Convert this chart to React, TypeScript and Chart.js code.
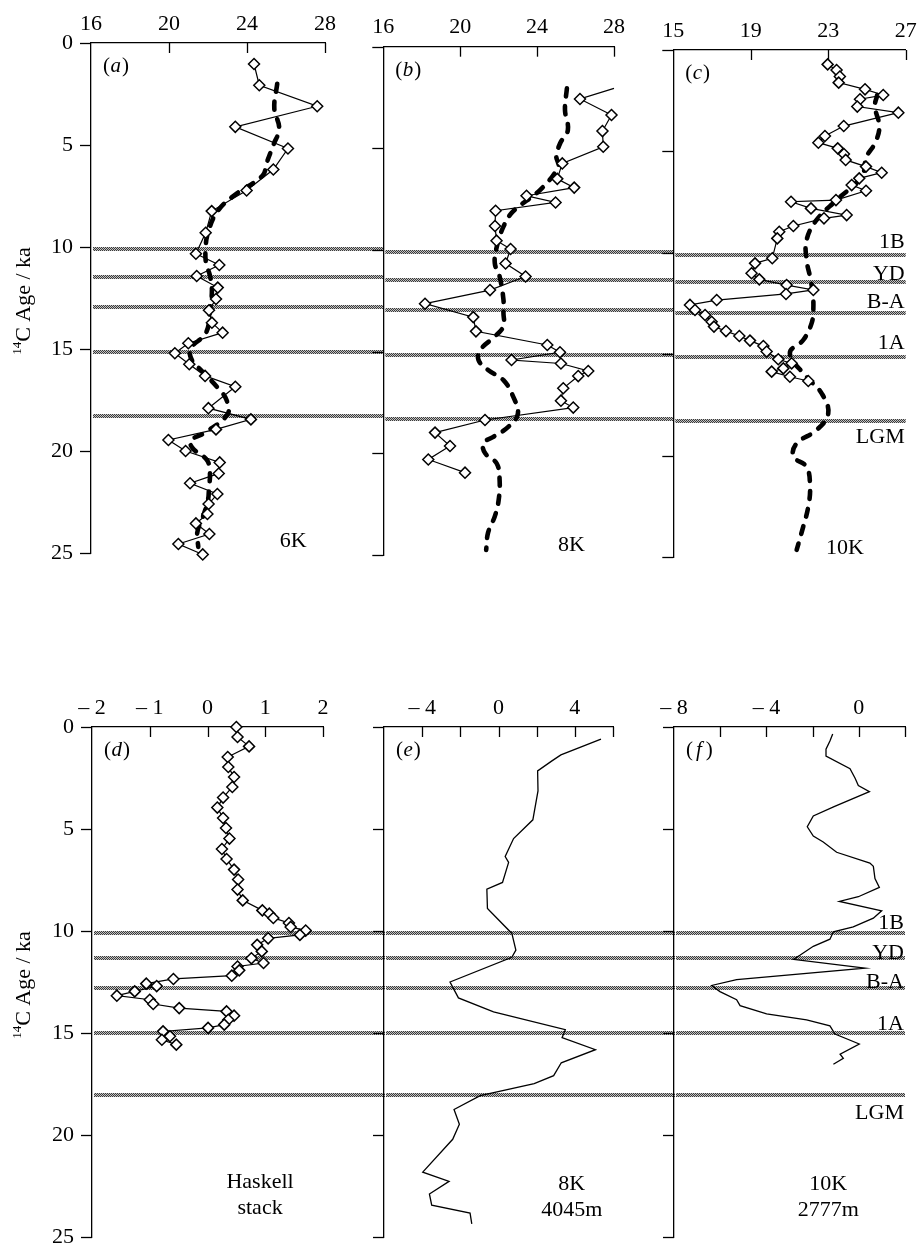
import React, { useEffect, useRef } from 'react';
import { Chart, registerables } from 'chart.js';

Chart.register(...registerables);

const SERIF = "'Liberation Serif', 'Times New Roman', Times, serif";

// ---------------- axes / ticks ----------------
const AGE_TICKS = [0, 5, 10, 15, 20, 25];
const SST_TICKS_AB = [16, 20, 24, 28];
const SST_TICKS_C = [15, 19, 23, 27];
const D_TICKS = [-2, -1, 0, 1, 2];
const E_TICKS = [-6, -4, -2, 0, 2, 4, 6];
const E_LABELLED = [-4, 0, 4];
const F_TICKS = [-8, -6, -4, -2, 0, 2];
const F_LABELLED = [-8, -4, 0];

// ---------------- climate events ----------------
const EVENT_NAMES = ['1B', 'YD', 'B-A', '1A', 'LGM'];
const EVENT_AGES_TOP = [10.1, 11.45, 12.95, 15.15, 18.3];
const EVENT_AGES_BOTTOM = [10.1, 11.3, 12.8, 15.0, 18.05];

// ---------------- (a) 6K ----------------
const A_AGE = [1.03, 2.07, 3.1, 4.11, 5.17, 6.2, 7.23, 8.24, 9.3, 10.33, 10.88, 11.42, 11.99, 12.55, 13.1, 13.71, 14.2, 14.72, 15.21, 15.75, 16.32, 16.85, 17.9, 18.45, 18.94, 19.46, 20.0, 20.56, 21.1, 21.58, 22.11, 22.6, 23.09, 23.55, 24.07, 24.56, 25.07];
const A_SST = [24.36, 24.63, 27.6, 23.4, 26.1, 25.35, 23.98, 22.19, 21.88, 21.38, 22.58, 21.42, 22.5, 22.41, 22.05, 22.2, 22.75, 20.99, 20.3, 21.04, 21.85, 23.4, 22.02, 24.2, 22.41, 19.97, 20.85, 22.6, 22.55, 21.08, 22.48, 22.03, 21.97, 21.38, 22.07, 20.48, 21.73];
const A_MOD_AGE = [2.0, 3.2, 4.2, 5.0, 5.9, 6.5, 7.5, 8.3, 9.3, 10.0, 10.8, 11.4, 12.1, 13.1, 14.2, 15.0, 15.6, 16.0, 16.9, 17.5, 18.2, 19.1, 19.5, 19.9, 20.45, 21.1, 21.8, 22.4, 23.2, 24.0, 24.7];
const A_MOD_SST = [25.55, 25.4, 25.65, 25.35, 25.0, 24.8, 23.3, 22.45, 22.0, 21.88, 21.9, 22.1, 22.2, 22.1, 21.9, 21.1, 21.2, 21.6, 22.5, 22.95, 23.0, 21.85, 21.1, 21.25, 21.95, 22.1, 22.05, 22.0, 21.75, 21.45, 21.5];

// ---------------- (b) 8K ----------------
// first pair: where the trace leaves the frame at 28
const B_AGE = [2.05, 2.57, 3.36, 4.15, 4.92, 5.74, 6.5, 6.93, 7.33, 7.66, 8.07, 8.82, 9.54, 9.95, 10.66, 11.3, 11.97, 12.64, 13.3, 14.0, 14.67, 15.03, 15.41, 15.58, 15.95, 16.2, 16.8, 17.41, 17.75, 18.36, 18.98, 19.64, 20.3, 20.95];
const B_SST = [28.0, 26.23, 27.87, 27.4, 27.44, 25.31, 25.05, 25.93, 23.45, 24.96, 21.84, 21.81, 21.89, 22.62, 22.36, 23.4, 21.55, 18.17, 20.68, 20.82, 24.53, 25.19, 22.67, 25.24, 26.66, 26.14, 25.36, 25.24, 25.88, 21.29, 18.69, 19.47, 18.34, 20.25];
const B_MOD_AGE = [2.05, 3.1, 4.1, 4.75, 5.4, 5.9, 7.05, 8.1, 8.85, 9.85, 10.65, 11.3, 12.45, 13.1, 13.75, 14.25, 14.9, 15.4, 15.9, 16.4, 17.2, 18.05, 18.7, 19.2, 19.5, 20.0, 20.5, 21.3, 22.3, 23.1, 23.9, 24.75];
const B_MOD_SST = [25.55, 25.45, 25.6, 25.2, 25.0, 25.1, 24.15, 22.75, 22.25, 21.9, 21.8, 22.05, 22.25, 22.25, 22.25, 21.8, 21.05, 20.95, 21.45, 22.25, 22.75, 23.0, 22.5, 21.7, 21.2, 21.3, 21.9, 22.05, 22.0, 21.8, 21.45, 21.35];

// ---------------- (c) 10K ----------------
const C_AGE = [0.71, 0.99, 1.31, 1.61, 1.94, 2.22, 2.43, 2.79, 3.09, 3.75, 4.24, 4.57, 4.85, 5.13, 5.42, 5.75, 6.05, 6.33, 6.66, 6.94, 7.4, 7.48, 7.81, 8.14, 8.3, 8.68, 8.96, 9.29, 10.27, 10.52, 11.01, 11.31, 11.59, 11.83, 12.03, 12.33, 12.57, 12.82, 13.07, 13.4, 13.64, 13.86, 14.1, 14.33, 14.6, 14.87, 15.25, 15.45, 15.7, 15.86, 16.11, 16.32];
const C_SST = [22.97, 23.43, 23.6, 23.54, 24.9, 25.84, 24.64, 24.5, 26.62, 23.8, 22.83, 22.49, 23.49, 23.81, 23.9, 24.95, 25.76, 24.6, 24.21, 24.95, 23.4, 21.08, 22.11, 23.95, 22.78, 21.2, 20.47, 20.37, 20.11, 19.22, 19.04, 19.44, 20.85, 22.23, 20.82, 17.24, 15.86, 16.12, 16.64, 16.98, 17.1, 17.72, 18.41, 18.96, 19.65, 19.82, 20.42, 21.11, 20.68, 20.08, 21.02, 21.97];
const C_MOD_AGE = [2.22, 2.79, 3.78, 4.6, 5.26, 6.25, 7.4, 8.38, 9.37, 10.35, 11.18, 12.0, 12.82, 13.48, 14.3, 14.96, 16.11, 16.93, 17.92, 18.74, 19.4, 20.05, 20.55, 21.53, 22.52, 23.5, 24.65];
const C_MOD_SST = [25.53, 25.41, 25.64, 25.41, 24.98, 24.72, 23.43, 22.4, 21.88, 21.88, 22.06, 22.2, 22.23, 22.14, 21.71, 21.02, 21.88, 22.66, 23.0, 22.4, 21.37, 21.2, 21.88, 22.06, 21.97, 21.71, 21.37];

// ---------------- (d) Haskell stack ----------------
const D_AGE = [0.0, 0.49, 0.95, 1.47, 1.96, 2.45, 2.94, 3.46, 3.95, 4.46, 4.95, 5.47, 5.98, 6.47, 6.99, 7.48, 7.97, 8.5, 8.99, 9.15, 9.36, 9.61, 9.8, 9.98, 10.19, 10.36, 10.68, 11.0, 11.34, 11.57, 11.74, 11.93, 12.19, 12.35, 12.58, 12.7, 12.96, 13.17, 13.37, 13.58, 13.78, 13.94, 14.15, 14.35, 14.59, 14.75, 14.92, 15.16, 15.33, 15.57];
const D_VAL = [0.5, 0.52, 0.72, 0.35, 0.36, 0.46, 0.43, 0.27, 0.17, 0.27, 0.32, 0.38, 0.25, 0.33, 0.46, 0.53, 0.52, 0.61, 0.95, 1.07, 1.14, 1.41, 1.44, 1.7, 1.6, 1.05, 0.86, 0.94, 0.76, 0.97, 0.52, 0.55, 0.42, -0.59, -1.06, -0.88, -1.26, -1.57, -1.0, -0.94, -0.49, 0.33, 0.46, 0.36, 0.29, 0.01, -0.77, -0.65, -0.79, -0.54];

// ---------------- (e) 8K 4045 m ----------------
const E_AGE = [0.59, 1.37, 1.66, 2.15, 3.13, 4.55, 5.47, 6.35, 6.64, 7.62, 7.95, 8.89, 10.12, 10.94, 11.29, 12.5, 13.28, 13.96, 14.84, 15.23, 15.82, 16.46, 17.09, 17.48, 18.07, 18.75, 19.47, 20.21, 21.82, 22.27, 22.89, 23.44, 23.83, 24.36];
const E_VAL = [5.37, 3.27, 2.8, 2.05, 2.07, 1.8, 0.79, 0.35, 0.53, 0.21, -0.61, -0.58, 0.7, 0.91, 0.7, -2.54, -2.1, -0.26, 3.5, 3.33, 5.08, 3.29, 2.89, 1.87, -0.96, -2.33, -2.05, -2.4, -3.97, -2.59, -3.62, -3.5, -1.49, -1.4];

// ---------------- (f) 10K 2777 m ----------------
const F_AGE = [0.34, 0.69, 1.09, 1.43, 2.04, 2.51, 2.87, 3.17, 3.9, 4.36, 4.89, 5.35, 5.64, 6.14, 6.67, 6.83, 7.43, 7.86, 8.32, 8.55, 9.01, 9.37, 9.8, 10.04, 10.4, 10.75, 11.19, 11.39, 11.82, 12.38, 12.67, 12.97, 13.37, 13.66, 14.06, 14.36, 14.65, 15.05, 15.54, 16.04, 16.24, 16.53];
const F_VAL = [-1.13, -1.25, -1.42, -1.42, -0.38, -0.16, -0.02, 0.46, -1.07, -1.97, -2.23, -1.97, -1.54, -0.96, 0.48, 0.63, 0.7, 0.89, -0.02, -0.84, 0.99, 0.63, -0.24, -1.1, -1.25, -1.97, -2.55, -2.83, 0.27, -5.29, -6.37, -6.01, -5.29, -5.14, -3.99, -2.26, -1.25, -1.03, 0.02, -0.81, -0.67, -1.1];

// ---------------- styling / layout ----------------
const CW = 1000;
const CH = 1300;
const AXIS_W = 60;
const AXIS_H = 44;
const TICK_SIZE = 22;
const TEXT_SIZE = 22;

const pts = (ages: number[], vals: number[]) => ages.map((a, i) => ({ x: vals[i], y: a }));

const diamonds = (ages: number[], vals: number[], hideFirst = false) => ({
  data: pts(ages, vals),
  showLine: true,
  borderColor: '#000',
  borderWidth: 1.2,
  pointStyle: 'rectRot',
  pointRadius: hideFirst ? (c: any) => (c.dataIndex === 0 ? 0 : 5.5) : 5.5,
  pointBorderWidth: 1.5,
  pointBackgroundColor: '#fff',
  pointBorderColor: '#000',
  tension: 0,
  clip: false,
});

const dashed = (ages: number[], vals: number[]) => ({
  data: pts(ages, vals),
  showLine: true,
  borderColor: '#000',
  borderWidth: 4.6,
  borderDash: [8, 10],
  borderCapStyle: 'round',
  pointRadius: 0,
  tension: 0.4,
  clip: false,
});

const plain = (ages: number[], vals: number[]) => ({
  data: pts(ages, vals),
  showLine: true,
  borderColor: '#000',
  borderWidth: 1.3,
  pointRadius: 0,
  tension: 0,
  clip: false,
});

type Note = { lines: string[]; x: number; y: number };
type Panel = {
  id: string;
  letter: string;
  left: number; right: number; top: number; bottom: number;
  xMin: number; xMax: number; xTicks: number[]; xLabelled: number[];
  yLabels: boolean;
  events: number[];
  eventEnd: number | null;
  eventLabelAges: number[] | null;
  notes: Note[];
  datasets: any[];
};

const PANELS: Panel[] = [
  {
    id: 'a', letter: 'a', left: 91, right: 325, top: 43, bottom: 553,
    xMin: 16, xMax: 28, xTicks: SST_TICKS_AB, xLabelled: SST_TICKS_AB, yLabels: true,
    events: EVENT_AGES_TOP, eventEnd: 384, eventLabelAges: null,
    notes: [{ lines: ['6K'], x: 26.37, y: 24.69 }],
    datasets: [diamonds(A_AGE, A_SST), dashed(A_MOD_AGE, A_MOD_SST)],
  },
  {
    id: 'b', letter: 'b', left: 383.3, right: 614, top: 46.7, bottom: 555,
    xMin: 16, xMax: 28, xTicks: SST_TICKS_AB, xLabelled: SST_TICKS_AB, yLabels: false,
    events: EVENT_AGES_TOP, eventEnd: 674, eventLabelAges: null,
    notes: [{ lines: ['8K'], x: 25.79, y: 24.79 }],
    datasets: [diamonds(B_AGE, B_SST, true), dashed(B_MOD_AGE, B_MOD_SST)],
  },
  {
    id: 'c', letter: 'c', left: 673.3, right: 905.7, top: 50, bottom: 557,
    xMin: 15, xMax: 27, xTicks: SST_TICKS_C, xLabelled: SST_TICKS_C, yLabels: false,
    events: EVENT_AGES_TOP, eventEnd: null, eventLabelAges: [9.78, 11.34, 12.74, 14.76, 19.36],
    notes: [{ lines: ['10K'], x: 23.86, y: 24.85 }],
    datasets: [diamonds(C_AGE, C_SST), dashed(C_MOD_AGE, C_MOD_SST)],
  },
  {
    id: 'd', letter: 'd', left: 92, right: 323, top: 727, bottom: 1237,
    xMin: -2, xMax: 2, xTicks: D_TICKS, xLabelled: D_TICKS, yLabels: true,
    events: EVENT_AGES_BOTTOM, eventEnd: 385, eventLabelAges: null,
    notes: [{ lines: ['Haskell', 'stack'], x: 0.91, y: 22.6 }],
    datasets: [diamonds(D_AGE, D_VAL)],
  },
  {
    id: 'e', letter: 'e', left: 384, right: 613, top: 727, bottom: 1237,
    xMin: -6, xMax: 6, xTicks: E_TICKS, xLabelled: E_LABELLED, yLabels: false,
    events: EVENT_AGES_BOTTOM, eventEnd: 675, eventLabelAges: null,
    notes: [{ lines: ['8K', '4045m'], x: 3.84, y: 22.7 }],
    datasets: [plain(E_AGE, E_VAL)],
  },
  {
    id: 'f', letter: 'f', left: 674, right: 905, top: 727, bottom: 1237,
    xMin: -8, xMax: 2, xTicks: F_TICKS, xLabelled: F_LABELLED, yLabels: false,
    events: EVENT_AGES_BOTTOM, eventEnd: null, eventLabelAges: [9.9, 11.39, 12.77, 14.85, 19.2],
    notes: [{ lines: ['10K', '2777m'], x: -1.32, y: 22.7 }],
    datasets: [plain(F_AGE, F_VAL)],
  },
];

function fmtTick(v: number): string {
  return v < 0 ? '\u2013 ' + Math.abs(v) : String(v);
}

let stipple: CanvasPattern | null = null;
function getStipple(ctx: CanvasRenderingContext2D): CanvasPattern | string {
  if (stipple) return stipple;
  const c = document.createElement('canvas');
  c.width = 2;
  c.height = 2;
  const g = c.getContext('2d');
  if (!g) return '#888';
  g.fillStyle = '#c4c4c4';
  g.fillRect(0, 0, 2, 2);
  g.fillStyle = '#3a3a3a';
  g.fillRect(0, 0, 1, 1);
  g.fillRect(1, 1, 1, 1);
  stipple = ctx.createPattern(c, 'repeat');
  return stipple || '#888';
}

function decorPlugin(p: Panel) {
  return {
    id: 'decor_' + p.id,
    beforeDatasetsDraw(chart: any) {
      const { ctx, chartArea } = chart;
      const ys = chart.scales.y;
      const end = p.eventEnd ?? chartArea.right;
      ctx.save();
      ctx.fillStyle = getStipple(ctx);
      p.events.forEach((age) => {
        const py = Math.round(ys.getPixelForValue(age));
        ctx.fillRect(chartArea.left + 2, py - 2, end - chartArea.left - 2, 4);
      });
      ctx.restore();
    },
    afterDraw(chart: any) {
      const { ctx, chartArea } = chart;
      const xs = chart.scales.x;
      const ys = chart.scales.y;
      ctx.save();
      // tick marks: inward on top axis, outward on left axis
      ctx.strokeStyle = '#000';
      ctx.lineWidth = 1.3;
      xs.ticks.forEach((t: any) => {
        if (t.value === xs.min) return;
        const px = Math.round(xs.getPixelForValue(t.value)) + 0.5;
        ctx.beginPath();
        ctx.moveTo(px, chartArea.top);
        ctx.lineTo(px, chartArea.top + 10);
        ctx.stroke();
      });
      ys.ticks.forEach((t: any) => {
        const py = Math.round(ys.getPixelForValue(t.value)) + 0.5;
        ctx.beginPath();
        ctx.moveTo(chartArea.left - 11, py);
        ctx.lineTo(chartArea.left, py);
        ctx.stroke();
      });

      ctx.fillStyle = '#000';
      // panel letter "(x)"
      {
        let x = chartArea.left + 12;
        const by = chartArea.top + 29;
        ctx.textAlign = 'left';
        ctx.textBaseline = 'alphabetic';
        ctx.font = `21px ${SERIF}`;
        ctx.fillText('(', x, by);
        x += ctx.measureText('(').width + (p.letter === 'f' ? 3 : 0.5);
        ctx.font = `italic 21px ${SERIF}`;
        ctx.fillText(p.letter, x, by);
        x += ctx.measureText(p.letter).width + (p.letter === 'f' ? 4 : 1);
        ctx.font = `21px ${SERIF}`;
        ctx.fillText(')', x, by);
      }

      // notes
      ctx.font = `${TEXT_SIZE}px ${SERIF}`;
      ctx.textAlign = 'center';
      ctx.textBaseline = 'alphabetic';
      p.notes.forEach((n) => {
        const px = xs.getPixelForValue(n.x);
        const py = ys.getPixelForValue(n.y);
        n.lines.forEach((line, i) => ctx.fillText(line, px, py + i * 26));
      });

      // event names
      if (p.eventLabelAges) {
        ctx.textAlign = 'right';
        ctx.font = `${TEXT_SIZE}px ${SERIF}`;
        p.eventLabelAges.forEach((age, i) => {
          ctx.fillText(EVENT_NAMES[i], chartArea.right - 1, ys.getPixelForValue(age));
        });
      }

      // y title
      if (p.yLabels) {
        const cy = (chartArea.top + chartArea.bottom) / 2 + 3;
        ctx.translate(30, cy);
        ctx.rotate(-Math.PI / 2);
        ctx.textAlign = 'left';
        ctx.textBaseline = 'alphabetic';
        ctx.font = `13px ${SERIF}`;
        const supW = ctx.measureText('14').width;
        ctx.font = `22px ${SERIF}`;
        const mainW = ctx.measureText('C Age / ka').width;
        const start = -(supW + mainW) / 2;
        ctx.font = `13px ${SERIF}`;
        ctx.fillText('14', start, -9);
        ctx.font = `22px ${SERIF}`;
        ctx.fillText('C Age / ka', start + supW, 0);
      }
      ctx.restore();
    },
  };
}

function makeChart(canvas: HTMLCanvasElement, p: Panel) {
  const tickFont = { family: SERIF, size: TICK_SIZE };
  return new Chart(canvas, {
    type: 'scatter',
    data: { datasets: p.datasets },
    options: {
      responsive: false,
      maintainAspectRatio: false,
      animation: false,
      devicePixelRatio: 1,
      events: [],
      layout: {
        padding: {
          left: p.left - AXIS_W,
          right: CW - p.right,
          top: p.top - AXIS_H,
          bottom: CH - p.bottom,
        },
      },
      plugins: {
        legend: { display: false },
        tooltip: { enabled: false },
      },
      scales: {
        x: {
          type: 'linear',
          position: 'top',
          min: p.xMin,
          max: p.xMax,
          afterBuildTicks: (s: any) => {
            s.ticks = p.xTicks.map((v) => ({ value: v }));
          },
          afterFit: (s: any) => {
            s.height = AXIS_H;
          },
          ticks: {
            autoSkip: false,
            maxRotation: 0,
            minRotation: 0,
            padding: 6,
            color: '#000',
            font: tickFont,
            callback: (v: any) => (p.xLabelled.includes(Number(v)) ? fmtTick(Number(v)) : ''),
          },
          grid: { display: false, drawTicks: false },
          border: { display: true, color: '#000', width: 1.3 },
        },
        y: {
          type: 'linear',
          position: 'left',
          reverse: true,
          min: 0,
          max: 25,
          afterBuildTicks: (s: any) => {
            s.ticks = AGE_TICKS.map((v) => ({ value: v }));
          },
          afterFit: (s: any) => {
            s.width = AXIS_W;
          },
          ticks: {
            display: p.yLabels,
            autoSkip: false,
            padding: 18,
            color: '#000',
            font: tickFont,
          },
          grid: { display: false, drawTicks: false },
          border: { display: true, color: '#000', width: 1.3 },
        },
      },
    } as any,
    plugins: [decorPlugin(p)],
  });
}

export default function App() {
  const refs = useRef<(HTMLCanvasElement | null)[]>([]);

  useEffect(() => {
    const charts = PANELS.map((p, i) => makeChart(refs.current[i] as HTMLCanvasElement, p));
    return () => charts.forEach((c) => c.destroy());
  }, []);

  return (
    <div
      style={{
        position: 'absolute',
        left: 0,
        top: 0,
        width: 917,
        height: 1246,
        overflow: 'hidden',
        background: '#fff',
      }}
    >
      {PANELS.map((p, i) => (
        <canvas
          key={p.id}
          ref={(el) => {
            refs.current[i] = el;
          }}
          width={CW}
          height={CH}
          style={{ position: 'absolute', left: 0, top: 0, width: CW, height: CH, display: 'block' }}
        />
      ))}
    </div>
  );
}
